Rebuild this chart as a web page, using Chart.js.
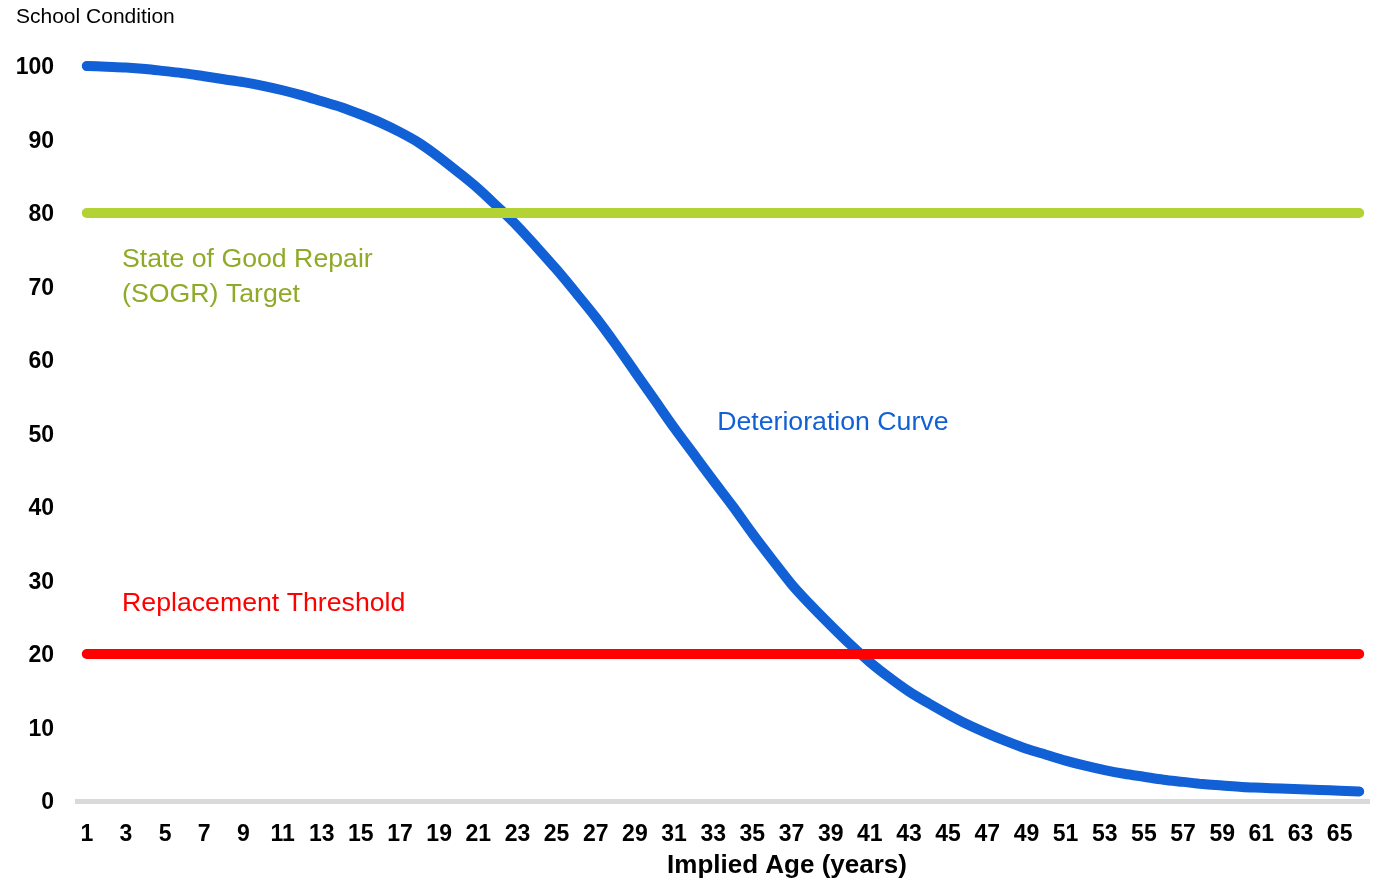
<!DOCTYPE html>
<html>
<head>
<meta charset="utf-8">
<title>School Condition Deterioration Curve</title>
<script src="https://cdn.jsdelivr.net/npm/chart.js@4.4.1/dist/chart.umd.min.js"></script>
<style>
  html, body { margin: 0; padding: 0; background: #fff; }
  #wrap { position: relative; width: 1380px; height: 879px; }
</style>
</head>
<body>
<div id="wrap"><canvas id="conditionChart"></canvas></div>
<script>
// implied age in years, 1..66
const ages = ['1','2','3','4','5','6','7','8','9','10','11','12','13','14','15','16','17','18','19','20','21','22',
              '23','24','25','26','27','28','29','30','31','32','33','34','35','36','37','38','39','40','41','42','43','44',
              '45','46','47','48','49','50','51','52','53','54','55','56','57','58','59','60','61','62','63','64','65','66'];

// condition index
const deterioration = [100, 99.9, 99.8, 99.6, 99.3, 99.0, 98.6, 98.2, 97.8, 97.3, 96.7, 96.0, 95.2, 94.4, 93.4, 92.3,
                       91.0, 89.5, 87.6, 85.5, 83.3, 80.8, 78.2, 75.3, 72.3, 69.1, 65.8, 62.2, 58.4, 54.6, 50.8, 47.2,
                       43.6, 40.1, 36.4, 32.9, 29.5, 26.6, 23.9, 21.3, 18.9, 16.8, 14.9, 13.3, 11.8, 10.4, 9.2, 8.1,
                       7.1, 6.3, 5.5, 4.8, 4.2, 3.7, 3.3, 2.9, 2.6, 2.3, 2.1, 1.9, 1.8, 1.7, 1.6, 1.5, 1.4, 1.3];

const sogrTarget = 80;
const replacementThreshold = 20;

const yTicks = [0, 10, 20, 30, 40, 50, 60, 70, 80, 90, 100];

const BLUE = '#1160D5';
const GREEN = '#B3D335';
const RED = '#FF0000';

// text notes placed in data units (category index, condition value)
const notes = [
    { lines: ['State of Good Repair', '(SOGR) Target'], at: 1.8, value: 73.6, step: 4.65, color: '#8EAA27' },
    { lines: ['Deterioration Curve'], at: 32.2, value: 51.5, step: 0, color: BLUE },
    { lines: ['Replacement Threshold'], at: 1.8, value: 26.8, step: 0, color: RED }
];

const textPlugin = {
    id: 'chartText',
    afterDraw(chart) {
        const { ctx, scales: { x, y } } = chart;
        ctx.save();
        ctx.textBaseline = 'middle';
        ctx.textAlign = 'left';
        ctx.font = '26.7px "Liberation Sans", Arial, sans-serif';
        notes.forEach(n => {
            ctx.fillStyle = n.color;
            n.lines.forEach((line, i) => {
                ctx.fillText(line, x.getPixelForValue(n.at), y.getPixelForValue(n.value - i * n.step));
            });
        });

        // y title top-left
        ctx.fillStyle = '#000';
        ctx.font = '21px "Liberation Sans", Arial, sans-serif';
        ctx.fillText('School Condition', 16, 17);

        // x title
        ctx.textAlign = 'center';
        ctx.font = 'bold 26px "Liberation Sans", Arial, sans-serif';
        ctx.fillText('Implied Age (years)', 787, 866);
        ctx.restore();
    }
};

const ctx = document.getElementById('conditionChart').getContext('2d');
new Chart(ctx, {
    type: 'line',
    data: {
        labels: ages,
        datasets: [
            {
                label: 'SOGR Target',
                data: ages.map(() => sogrTarget),
                borderColor: GREEN,
                borderWidth: 10,
                borderCapStyle: 'round',
                pointRadius: 0,
                clip: false,
                order: 0
            },
            {
                label: 'Replacement Threshold',
                data: ages.map(() => replacementThreshold),
                borderColor: RED,
                borderWidth: 10,
                borderCapStyle: 'round',
                pointRadius: 0,
                clip: false,
                order: 0
            },
            {
                label: 'Deterioration Curve',
                data: deterioration,
                borderColor: BLUE,
                borderWidth: 10,
                borderCapStyle: 'round',
                borderJoinStyle: 'round',
                cubicInterpolationMode: 'monotone',
                pointRadius: 0,
                clip: false,
                order: 1
            }
        ]
    },
    options: {
        responsive: true,
        maintainAspectRatio: false,
        animation: false,
        layout: { padding: { top: 66, right: 11, left: 0, bottom: 0 } },
        plugins: {
            legend: { display: false },
            tooltip: { enabled: false },
            title: { display: false }
        },
        scales: {
            x: {
                offset: true,
                grid: { display: false, drawTicks: false, tickLength: 0 },
                border: { display: true, color: '#D9D9D9', width: 5 },
                ticks: {
                    autoSkip: false,
                    maxRotation: 0,
                    padding: 20,
                    color: '#000',
                    font: { family: '"Liberation Sans", Arial, sans-serif', size: 23, weight: 'bold' },
                    callback: (v, i) => (i % 2 === 0 ? ages[i] : '')
                },
                afterFit: scale => { scale.height = 78; }
            },
            y: {
                min: 0,
                max: 100,
                grid: { display: false, drawTicks: false, tickLength: 0 },
                border: { display: false },
                afterBuildTicks: scale => { scale.ticks = yTicks.map(v => ({ value: v })); },
                ticks: {
                    padding: 23,
                    labelOffset: 2,
                    color: '#000',
                    font: { family: '"Liberation Sans", Arial, sans-serif', size: 23, weight: 'bold' }
                },
                afterFit: scale => { scale.width = 77; }
            }
        }
    },
    plugins: [textPlugin]
});
</script>
</body>
</html>
